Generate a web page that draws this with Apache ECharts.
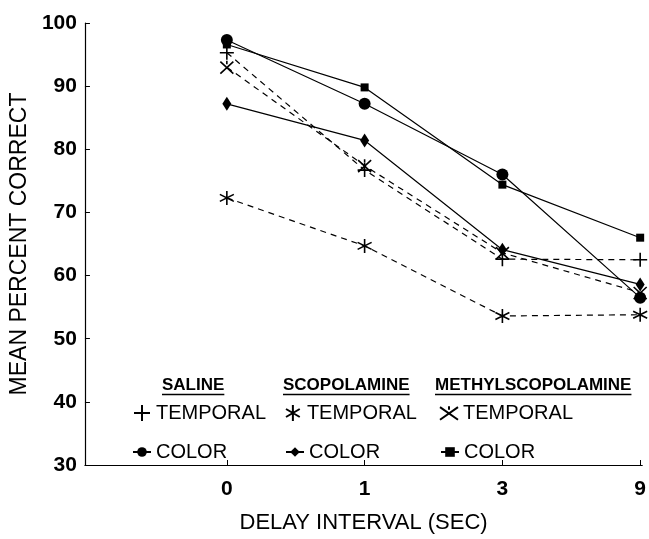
<!DOCTYPE html>
<html>
<head>
<meta charset="utf-8">
<script src="https://cdn.jsdelivr.net/npm/echarts@6/dist/echarts.min.js"></script>
<style>html,body{margin:0;padding:0;background:#fff}#c{width:649px;height:539px}</style>
</head>
<body>
<div id="c"></div>
<script>
// Delay interval categories (plotted at equal spacing)
const delays = ['0', '1', '3', '9'];
// Mean percent correct per group
const salineTemporal = [95.3, 76.7, 62.6, 62.5];
const salineColor = [97.3, 87.2, 76.0, 56.5];
const scopTemporal = [72.3, 64.7, 53.6, 53.8];
const scopColor = [87.2, 81.4, 64.1, 58.6];
const methTemporal = [93.0, 77.4, 63.6, 57.3];
const methColor = [96.6, 89.8, 74.4, 66.0];
const yTicks = [30, 40, 50, 60, 70, 80, 90, 100];
const groupHeaders = ['SALINE', 'SCOPOLAMINE', 'METHYLSCOPOLAMINE'];

const FONT = 'Liberation Sans, Arial, sans-serif';
const plusPath = 'path://M5 0L5 10M0 5L10 5';
const starPath = 'path://M5 0L5 10M0.7 2.5L9.3 7.5M0.7 7.5L9.3 2.5';
const xPath = 'path://M0 1.5L10 8.5M0 8.5L10 1.5M5 1L5 3';

function pts(arr) { return arr.map((v, i) => [i, v]); }
function mk(name, data, symbol, size, dashed, stroke) {
  return {
    name: name, type: 'line', data: pts(data), symbol: symbol, symbolSize: size,
    lineStyle: { color: '#000', width: 1.2, type: dashed ? [6, 5] : 'solid' },
    itemStyle: stroke ? { color: 'rgba(0,0,0,0)', borderColor: '#000', borderWidth: 1.6 } : { color: '#000', borderColor: '#000', borderWidth: 0 },
    emphasis: { disabled: true }, animation: false, z: 3
  };
}

const series = [
  mk('SALINE TEMPORAL', salineTemporal, plusPath, 14, true, true),
  mk('SALINE COLOR', salineColor, 'circle', 12, false, false),
  mk('SCOPOLAMINE TEMPORAL', scopTemporal, starPath, 14, true, true),
  mk('SCOPOLAMINE COLOR', scopColor, 'diamond', [9, 14], false, false),
  mk('METHYLSCOPOLAMINE TEMPORAL', methTemporal, xPath, 13, true, true),
  mk('METHYLSCOPOLAMINE COLOR', methColor, 'rect', 8, false, false)
];

function lg(name, label, left, top, icon) {
  const d = { name: name };
  if (icon) d.icon = icon;
  return {
    data: [d], left: left, top: top, itemWidth: 18, itemHeight: icon ? 16 : 12,
    formatter: () => label, selectedMode: false,
    textStyle: { fontFamily: FONT, fontSize: 20, color: '#000' },
    padding: 0, itemGap: 0
  };
}

const legends = [
  lg('SALINE TEMPORAL', 'TEMPORAL', 133, 403, plusPath),
  lg('SALINE COLOR', 'COLOR', 132, 442),
  lg('SCOPOLAMINE TEMPORAL', 'TEMPORAL', 285, 403, starPath),
  lg('SCOPOLAMINE COLOR', 'COLOR', 285, 442),
  lg('METHYLSCOPOLAMINE TEMPORAL', 'TEMPORAL', 439, 403, xPath),
  lg('METHYLSCOPOLAMINE COLOR', 'COLOR', 440, 442)
];

const headerX = [162, 283, 435];
const HFONT = 'bold 17px ' + FONT;
const mc = document.createElement('canvas').getContext('2d');
mc.font = HFONT;
const graphics = [];
groupHeaders.forEach((t, i) => {
  const w = mc.measureText(t).width;
  graphics.push({ type: 'text', left: headerX[i], top: 377, style: { text: t, font: HFONT, fill: '#000' } });
  graphics.push({ type: 'line', shape: { x1: headerX[i], y1: 394.5, x2: headerX[i] + w, y2: 394.5 }, style: { stroke: '#000', lineWidth: 1.5 } });
});

const chart = echarts.init(document.getElementById('c'), null, { renderer: 'canvas' });
chart.setOption({
  animation: false,
  backgroundColor: '#fff',
  grid: { left: 83, top: 23, right: 5, bottom: 73, containLabel: false },
  xAxis: {
    type: 'value', min: -1.03, max: 3.015,
    name: 'DELAY INTERVAL (SEC)', nameLocation: 'middle', nameGap: 47,
    nameTextStyle: { fontFamily: FONT, fontSize: 22, color: '#000', verticalAlign: 'top' },
    axisLine: { onZero: false, lineStyle: { color: '#000', width: 1.2 } },
    axisTick: { inside: true, length: 5, lineStyle: { color: '#000' }, customValues: [0, 1, 2, 3] },
    axisLabel: { customValues: [0, 1, 2, 3], formatter: v => delays[Math.round(v)], fontFamily: FONT, fontSize: 21, fontWeight: 'bold', color: '#000', margin: 14 },
    splitLine: { show: false }
  },
  yAxis: {
    type: 'value', min: 30, max: 100, interval: 10,
    name: 'MEAN PERCENT CORRECT', nameLocation: 'middle', nameGap: 35, nameRotate: 90,
    nameTextStyle: { fontFamily: FONT, fontSize: 23, color: '#000' },
    axisLine: { show: true, onZero: false, lineStyle: { color: '#000', width: 1.2 } },
    axisTick: { show: true, inside: true, length: 5, lineStyle: { color: '#000' } },
    axisLabel: { formatter: v => yTicks.includes(v) ? String(v) : '', fontFamily: FONT, fontSize: 21, fontWeight: 'bold', color: '#000', margin: 8 },
    splitLine: { show: false }
  },
  legend: legends,
  graphic: graphics,
  series: series
});
</script>
</body>
</html>
